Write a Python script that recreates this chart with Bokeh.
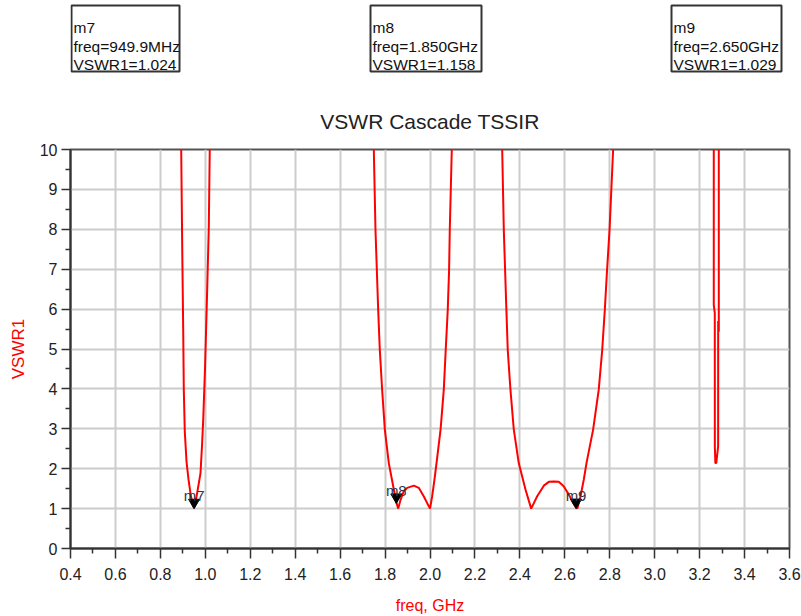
from bokeh.plotting import figure
from bokeh.models import Range1d, FixedTicker, NumeralTickFormatter, ColumnDataSource
from bokeh.layouts import column
from bokeh.transform import dodge
from bokeh.core.properties import value
from bokeh.embed import file_html
from bokeh.resources import INLINE

# ---- data ----
band1_freq = [0.8925, 0.8927, 0.8971, 0.9016, 0.9042, 0.9087, 0.9163, 0.9252, 0.9360, 0.9499,
              0.9610, 0.9700, 0.9786, 0.9860, 0.9906, 0.9986, 1.0084, 1.0155, 1.0198, 1.0202]
band1_vswr = [11.0, 10.0, 7.6, 5.47, 4.0, 2.93, 2.18, 1.73, 1.30, 1.024,
              1.30, 1.60, 1.89, 2.65, 3.22, 4.5, 6.5, 8.06, 10.0, 11.0]

band2_freq = [1.7480, 1.7499, 1.7574, 1.7694, 1.7766, 1.7870, 1.7990, 1.8166, 1.8390, 1.8500,
              1.8585, 1.8690, 1.8830, 1.8985, 1.9280, 1.9500, 1.9720, 2.0000, 2.0097, 2.0200,
              2.0290, 2.0470, 2.0614, 2.0700, 2.0790, 2.0850, 2.0880, 2.0970, 2.0990]
band2_vswr = [11.0, 10.0, 7.98, 5.98, 4.98, 3.98, 2.98, 2.14, 1.48, 1.158,
              1.0, 1.22, 1.43, 1.52, 1.575, 1.52, 1.31, 1.0, 1.31, 1.73,
              2.14, 2.98, 3.98, 4.98, 5.98, 6.98, 7.98, 10.0, 11.0]

band3_freq = [2.3190, 2.3213, 2.3285, 2.3400, 2.3460, 2.3580, 2.3730, 2.3950, 2.4250, 2.4503,
              2.4770, 2.5065, 2.5290, 2.5510, 2.5730, 2.5950, 2.6180, 2.6370, 2.6500, 2.6560,
              2.6700, 2.6845, 2.6965, 2.7260, 2.7510, 2.7665, 2.7780, 2.7880, 2.7990, 2.8150, 2.8170]
band3_vswr = [11.0, 10.0, 7.98, 5.98, 4.98, 3.98, 2.98, 2.14, 1.48, 1.0,
              1.31, 1.575, 1.67, 1.68, 1.67, 1.56, 1.35, 1.14, 1.029, 1.0,
              1.31, 1.73, 2.14, 2.98, 3.98, 4.98, 5.98, 6.98, 7.98, 10.0, 11.0]

band4_freq = [3.2630, 3.2630, 3.2675, 3.2677, 3.2700, 3.2740, 3.2824, 3.2826, 3.2853, 3.2853, 3.2930]
band4_vswr = [11.0, 6.1, 5.9, 2.56, 2.14, 2.14, 2.56, 5.7, 5.43, 10.0, 10.1]

marker_names = ["m7", "m8", "m9"]
marker_freq = [0.9499, 1.850, 2.650]
marker_vswr = [1.024, 1.158, 1.029]
marker_freq_text = ["949.9MHz", "1.850GHz", "2.650GHz"]

x_ticks = [0.4, 0.6, 0.8, 1.0, 1.2, 1.4, 1.6, 1.8, 2.0, 2.2, 2.4, 2.6, 2.8, 3.0, 3.2, 3.4, 3.6]
x_minor = [0.5, 0.7, 0.9, 1.1, 1.3, 1.5, 1.7, 1.9, 2.1, 2.3, 2.5, 2.7, 2.9, 3.1, 3.3, 3.5]
y_ticks = [0, 1, 2, 3, 4, 5, 6, 7, 8, 9, 10]
y_minor = [0.5, 1.5, 2.5, 3.5, 4.5, 5.5, 6.5, 7.5, 8.5, 9.5]

FONT = "Liberation Sans"
W = 801
BL, BR = 70, 12      # frame left / right borders (px)
TOP_H = 90           # height of the readout strip

# ---- top strip with marker readout boxes (pixel coordinates) ----
top = figure(width=W, height=TOP_H, x_range=Range1d(BL, W - BR), y_range=Range1d(TOP_H, 0),
             toolbar_location=None, output_backend="svg",
             x_axis_location=None, y_axis_location=None,
             min_border_left=BL, min_border_right=BR, min_border_top=0, min_border_bottom=0)
top.grid.visible = False
top.outline_line_color = None

box_left = [71, 370, 671]
box_right = [179, 481, 781]
top.quad(left=box_left, right=box_right, top=[5] * 3, bottom=[71] * 3,
         fill_color="white", line_color="#333333", line_width=2)
tx, ty, tt = [], [], []
for bl, n, ft, v in zip(box_left, marker_names, marker_freq_text, marker_vswr):
    for yb, s in zip([27, 46, 64], [n, "freq=" + ft, "VSWR1=%.3f" % v]):
        tx.append(bl + 2)
        ty.append(yb)
        tt.append(s)
top.text(x=tx, y=ty, text=tt, text_font=value(FONT), text_font_size="15.5px",
         text_color="#111111", text_baseline="alphabetic", text_align="left")

# ---- main chart ----
p = figure(width=W, height=616 - TOP_H, x_range=Range1d(0.4, 3.6), y_range=Range1d(0, 10),
           toolbar_location=None, output_backend="svg",
           min_border_left=BL, min_border_right=BR, min_border_top=149 - TOP_H,
           min_border_bottom=67)
p.title.text = "VSWR Cascade TSSIR"
p.title.align = "center"
p.title.text_font = FONT
p.title.text_font_size = "21px"
p.title.text_font_style = "normal"
p.title.text_color = "#222222"
p.title.standoff = 33

p.outline_line_color = "#555555"
p.outline_line_width = 2

p.xaxis.ticker = FixedTicker(ticks=x_ticks, minor_ticks=x_minor)
p.yaxis.ticker = FixedTicker(ticks=y_ticks, minor_ticks=y_minor)
p.xaxis.formatter = NumeralTickFormatter(format="0.0")
for ax in (p.xaxis, p.yaxis):
    ax.axis_line_color = "#333333"
    ax.axis_line_width = 2
    ax.major_tick_line_color = "#333333"
    ax.minor_tick_line_color = "#333333"
    ax.major_tick_line_width = 1.5
    ax.minor_tick_line_width = 1.5
    ax.major_tick_in = 0
    ax.minor_tick_in = 0
    ax.major_label_text_font = FONT
    ax.major_label_text_font_size = "16px"
    ax.major_label_text_color = "#222222"
    ax.axis_label_text_font = FONT
    ax.axis_label_text_font_style = "normal"
    ax.axis_label_text_color = "#ff0000"
p.xaxis.major_tick_out = 10
p.xaxis.minor_tick_out = 5
p.yaxis.major_tick_out = 9
p.yaxis.minor_tick_out = 5
p.xaxis.major_label_standoff = 9
p.yaxis.major_label_standoff = 4
p.xaxis.axis_label = "freq, GHz"
p.yaxis.axis_label = "VSWR1"
p.xaxis.axis_label_text_font_size = "16px"
p.yaxis.axis_label_text_font_size = "17px"
p.xaxis.axis_label_standoff = 14
p.yaxis.axis_label_standoff = 9

p.xgrid.ticker = FixedTicker(ticks=x_ticks)
p.ygrid.ticker = FixedTicker(ticks=y_ticks)
p.grid.grid_line_color = "#cccccc"
p.grid.grid_line_width = 2

for fx, fy in [(band1_freq, band1_vswr), (band2_freq, band2_vswr),
               (band3_freq, band3_vswr), (band4_freq, band4_vswr)]:
    p.line(fx, fy, line_color="#ff0000", line_width=2)

msrc = ColumnDataSource(dict(x=marker_freq, y=marker_vswr, name=marker_names))
p.scatter(x="x", y=dodge("y", 0.13, range=p.y_range), source=msrc, marker="inverted_triangle",
          size=11, fill_color="black", line_color="black")
p.text(x="x", y="y", text="name", source=msrc, y_offset=-12, text_align="center",
       text_baseline="alphabetic", text_font=value(FONT), text_font_size="15px",
       text_color="#2b3650")

layout = column(top, p, spacing=0)
open("out.html", "w").write(file_html(layout, INLINE))
